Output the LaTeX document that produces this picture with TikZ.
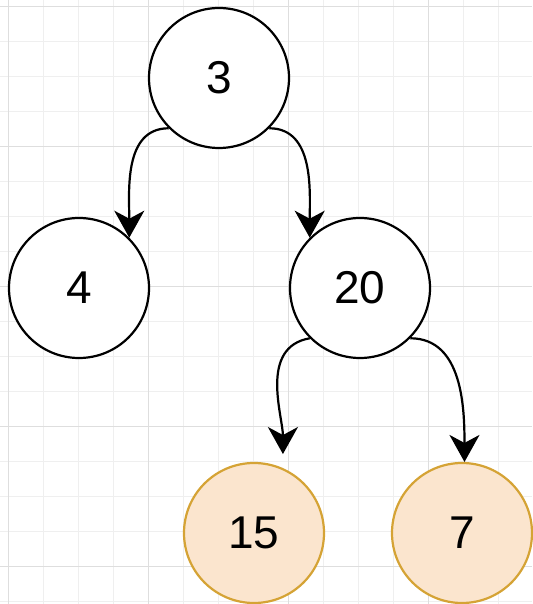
\documentclass[tikz,border=0pt]{standalone}
\usepackage{fontspec}
\setmainfont{Liberation Sans}
\usetikzlibrary{arrows.meta}
\definecolor{gridminor}{HTML}{EFEFEF}
\definecolor{gridmajor}{HTML}{DEDEDE}
\definecolor{leaffill}{HTML}{FBE5CE}
\definecolor{leafline}{HTML}{D5A335}
\begin{document}
\begin{tikzpicture}[x=1pt,y=1pt,
    vertex/.style={circle,draw,line width=2.2pt,fill=white,minimum size=140pt,
      inner sep=0pt,font=\fontsize{46}{50}\selectfont},
    leaf/.style={vertex,draw=leafline,fill=leaffill},
    edge/.style={line width=2.2pt,-{Stealth[length=27pt,width=30pt,inset=8pt]}}]
  \useasboundingbox (0,0) rectangle (532,604);
  % grid
  \foreach \x in {8,43,...,532} \draw[gridminor,line width=1pt] (\x,0) -- (\x,604);
  \foreach \y in {2,37,...,604} \draw[gridminor,line width=1pt] (0,\y) -- (532,\y);
  \foreach \x in {8,148,...,532} \draw[gridmajor,line width=1pt] (\x,0) -- (\x,604);
  \foreach \y in {37,177,...,604} \draw[gridmajor,line width=1pt] (0,\y) -- (532,\y);
  \draw
    (219,526) node[vertex] (3){3}
    (79,316) node[vertex] (4){4}
    (360,316) node[vertex] (20){20}
    (254,71) node[leaf] (15){15}
    (462,71) node[leaf] (7){7};
  \begin{scope}[edge]
    \draw (3.-135) to[out=180,in=90] (4.45);
    \draw (3.-45) to[out=0,in=90] (20.135);
    \draw[shorten >=14pt] (20.-135) to[out=190,in=90] (15.66);
    \draw (20.-45) to[out=0,in=90] (7.88);
  \end{scope}
\end{tikzpicture}
\end{document}
